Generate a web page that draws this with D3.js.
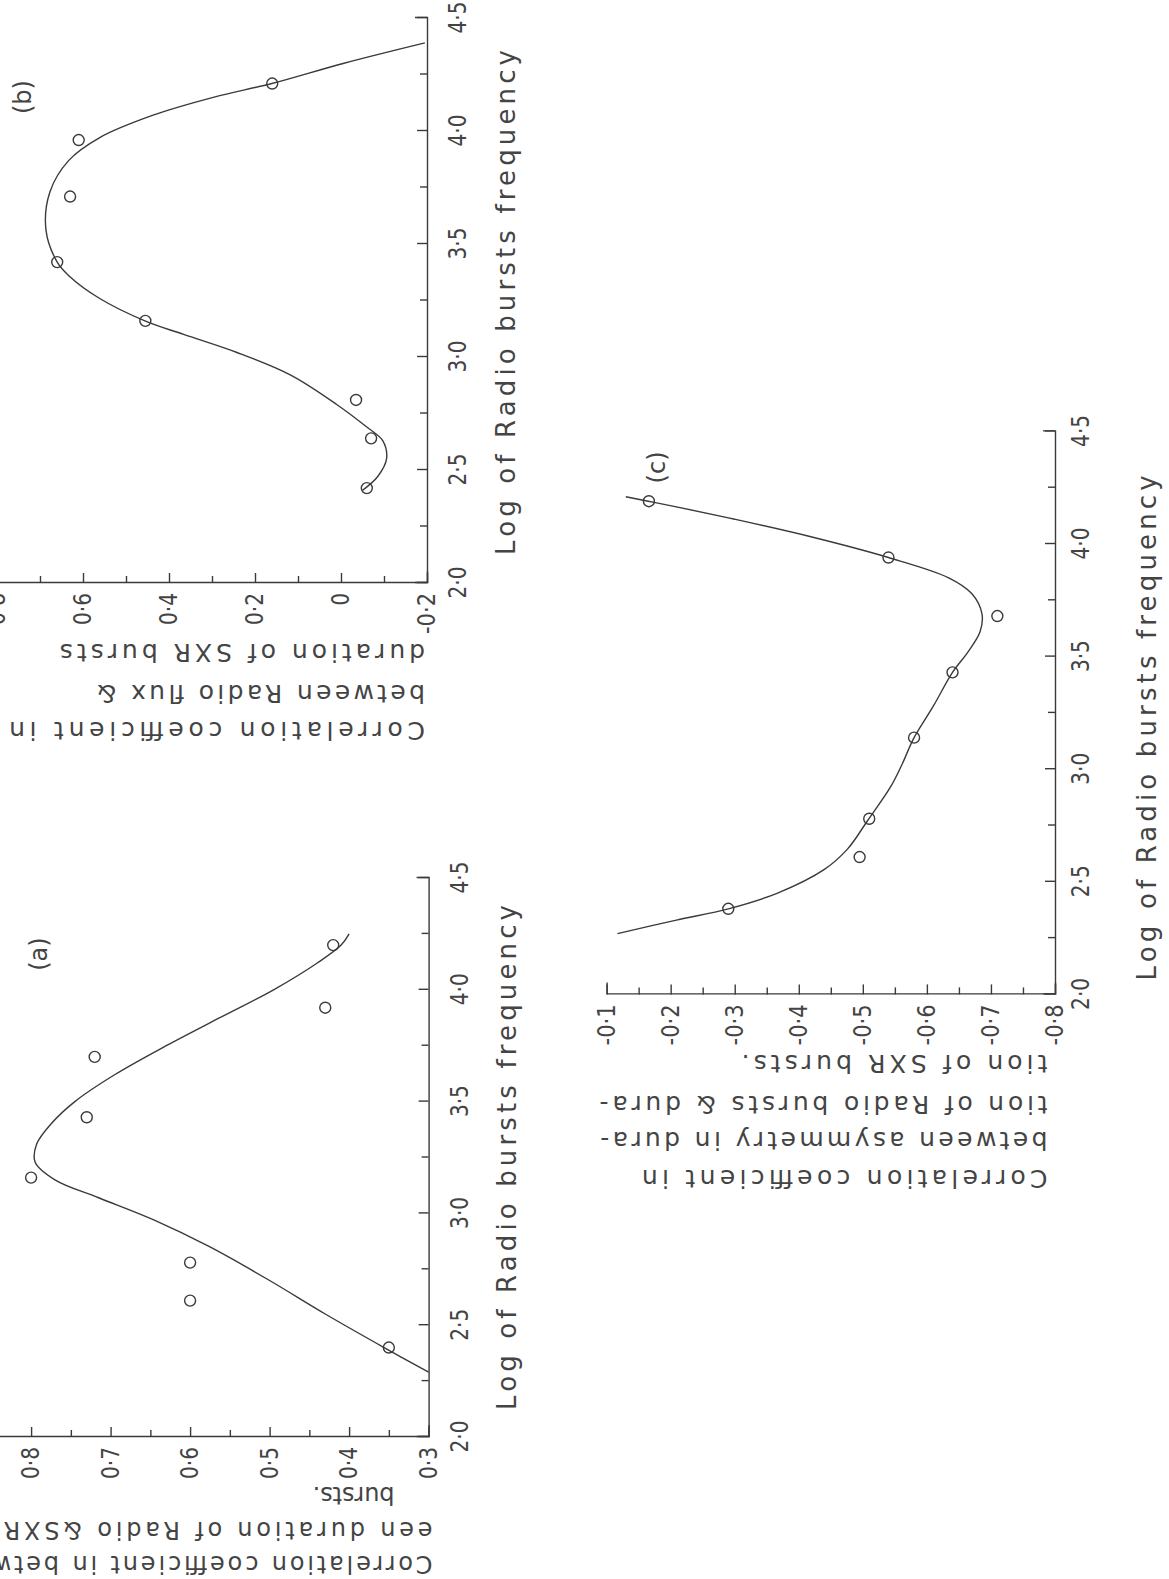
<!DOCTYPE html>
<html>
<head>
<meta charset="utf-8">
<script src="https://cdn.jsdelivr.net/npm/d3@7"></script>
<style>
  body { margin: 0; background: #fff; }
  svg text { font-family: "DejaVu Sans", sans-serif; fill: #444; }
</style>
</head>
<body>
<svg id="page" width="1169" height="1579"></svg>
<script>
// ---- data (page is turned 90 degrees) ----
const xTickValues = [2.0, 2.5, 3.0, 3.5, 4.0, 4.5];
const xTickLabels = ["2·0", "2·5", "3·0", "3·5", "4·0", "4·5"];
const xMinorTicks = [2.25, 2.75, 3.25, 3.75, 4.25];

// (a) radio duration vs SXR duration
const aFreq = [2.40, 2.61, 2.78, 3.16, 3.43, 3.70, 3.92, 4.20];
const aCorr = [0.35, 0.60, 0.60, 0.80, 0.73, 0.72, 0.43, 0.42];
const aFitFreq = [2.29, 2.40, 2.55, 2.70, 2.85, 2.97, 3.07, 3.15, 3.23, 3.31, 3.40, 3.50, 3.62, 3.75, 3.88, 4.00, 4.12, 4.20, 4.25];
const aFitCorr = [0.30, 0.356, 0.43, 0.50, 0.575, 0.645, 0.715, 0.77, 0.795, 0.793, 0.775, 0.745, 0.695, 0.63, 0.56, 0.495, 0.44, 0.41, 0.40];
const aYTicks = [0.3, 0.4, 0.5, 0.6, 0.7, 0.8];
const aYLabels = ["0·3", "0·4", "0·5", "0·6", "0·7", "0·8"];
const aYMinor = [0.35, 0.45, 0.55, 0.65, 0.75, 0.85];

// (b) radio flux vs SXR duration
const bFreq = [2.42, 2.64, 2.81, 3.16, 3.42, 3.71, 3.96, 4.21];
const bCorr = [-0.06, -0.07, -0.035, 0.455, 0.66, 0.63, 0.61, 0.16];
const bFitFreq = [2.41, 2.47, 2.55, 2.63, 2.69, 2.79, 2.92, 3.02, 3.10, 3.16, 3.26, 3.36, 3.42, 3.56, 3.73, 3.87, 3.97, 4.07, 4.15, 4.21, 4.30, 4.39];
const bFitCorr = [-0.05, -0.085, -0.106, -0.097, -0.06, 0.01, 0.117, 0.242, 0.366, 0.456, 0.562, 0.633, 0.66, 0.686, 0.677, 0.633, 0.562, 0.437, 0.295, 0.161, -0.007, -0.195];
const bYTicks = [-0.2, 0, 0.2, 0.4, 0.6, 0.8];
const bYLabels = ["-0·2", "0", "0·2", "0·4", "0·6", "0·8"];
const bYMinor = [-0.1, 0.1, 0.3, 0.5, 0.7, 0.9];

// (c) asymmetry in radio duration vs SXR duration
const cFreq = [2.38, 2.61, 2.78, 3.14, 3.43, 3.68, 3.94, 4.19];
const cCorr = [-0.29, -0.495, -0.51, -0.58, -0.64, -0.71, -0.54, -0.166];
const cFitFreq = [2.27, 2.33, 2.38, 2.45, 2.555, 2.645, 2.77, 2.92, 3.02, 3.14, 3.28, 3.43, 3.52, 3.61, 3.69, 3.78, 3.85, 3.94, 4.03, 4.11, 4.165, 4.19, 4.21];
const cFitCorr = [-0.117, -0.209, -0.29, -0.367, -0.44, -0.476, -0.507, -0.543, -0.561, -0.58, -0.61, -0.64, -0.664, -0.683, -0.686, -0.67, -0.634, -0.54, -0.422, -0.30, -0.209, -0.165, -0.13];
const cYTicks = [-0.8, -0.7, -0.6, -0.5, -0.4, -0.3, -0.2, -0.1];
const cYLabels = ["-0·8", "-0·7", "-0·6", "-0·5", "-0·4", "-0·3", "-0·2", "-0·1"];
const cYMinor = [-0.75, -0.65, -0.55, -0.45, -0.35, -0.25, -0.15];

const xTitle = "Log of Radio bursts frequency";

// ---- panels: corner of the axes on the page, axis lengths, label placement ----
const panels = [
  {
    id: "a", corner: [428.6, 1437], W: 559, H: 477, yDomain: [0.3, 0.9],
    freq: aFreq, corr: aCorr, fitF: aFitFreq, fitC: aFitCorr,
    yTicks: aYTicks, yLabels: aYLabels, yMinor: aYMinor,
    xPad: 22, titleY: 87, titleLen: 505, titleShift: 0,
    tag: "(a)", tagPos: [4.16, 0.79],
    yTitle: [
      { t: "Correlation coefficient in betw-", d: 119, s: -4, len: 31 * 14.6 },
      { t: "een duration of Radio &SXR", d: 85, s: -4, len: 26 * 16.5 },
      { t: "bursts.", d: 50, s: 34, len: 82 }
    ], yTitleSize: 24
  },
  {
    id: "b", corner: [427, 583], W: 565, H: 473, yDomain: [-0.2, 0.9],
    freq: bFreq, corr: bCorr, fitF: bFitFreq, fitC: bFitCorr,
    yTicks: bYTicks, yLabels: bYLabels, yMinor: bYMinor,
    xPad: 22, titleY: 88, titleLen: 505, titleShift: -2,
    tag: "(b)", tagPos: [4.15, 0.74],
    yTitle: [
      { t: "Correlation coefficient in", d: 139, s: 2, len: 26 * 16.0 },
      { t: "between Radio flux &", d: 102, s: 2, len: 20 * 16.4 },
      { t: "duration of SXR bursts", d: 61, s: 2, len: 22 * 16.6 }
    ], yTitleSize: 25
  },
  {
    id: "c", corner: [1055, 994.4], W: 563, H: 448.4, yDomain: [-0.8, -0.1],
    freq: cFreq, corr: cCorr, fitF: cFitFreq, fitC: cFitCorr,
    yTicks: cYTicks, yLabels: cYLabels, yMinor: cYMinor,
    xPad: 17, titleY: 101, titleLen: 505, titleShift: -15,
    tag: "(c)", tagPos: [4.34, -0.178],
    yTitle: [
      { t: "Correlation coefficient in", d: 176, s: 7.5, len: 26 * 15.6 },
      { t: "between asymmetry in dura-", d: 138, s: 7.5, len: 26 * 17.2 },
      { t: "tion of Radio bursts & dura-", d: 102, s: 7.5, len: 28 * 16.0 },
      { t: "tion of SXR bursts.", d: 61, s: 7.5, len: 19 * 16.1 }
    ], yTitleSize: 25
  }
];

// printed numerals are tall and narrow
function labelWidth(s) {
  let w = 0;
  for (const c of s) w += c === "·" ? 7 : c === "-" ? 9 : 12.5;
  return w;
}

const svg = d3.select("#page");
const ink = "#3a3a3a";

panels.forEach(p => {
  // the whole figure is printed turned a quarter turn to the left
  const g = svg.append("g")
    .attr("id", "panel-" + p.id)
    .attr("transform", `translate(${p.corner[0]},${p.corner[1]}) rotate(-90)`);

  const x = d3.scaleLinear().domain([2.0, 4.5]).range([0, p.W]);
  const y = d3.scaleLinear().domain(p.yDomain).range([0, -p.H]);

  /* ------- X AXIS ------- */
  g.append("g")
    .attr("class", "x-minor")
    .call(d3.axisBottom(x).tickValues(xMinorTicks).tickSize(-7).tickSizeOuter(0).tickFormat(""))
    .call(s => s.select(".domain").remove());

  g.append("g")
    .attr("class", "x-major")
    .call(d3.axisBottom(x).tickValues(xTickValues).tickSize(-10).tickSizeOuter(-12)
      .tickPadding(p.xPad).tickFormat((d, i) => xTickLabels[i]));

  /* ------- Y AXIS ------- */
  g.append("g")
    .attr("class", "y-minor")
    .call(d3.axisLeft(y).tickValues(p.yMinor).tickSize(-7).tickSizeOuter(0).tickFormat(""))
    .call(s => s.select(".domain").remove());

  g.append("g")
    .attr("class", "y-major")
    .call(d3.axisLeft(y).tickValues(p.yTicks).tickSize(-10).tickSizeOuter(-12)
      .tickPadding(10).tickFormat((d, i) => p.yLabels[i]));

  g.selectAll(".domain, .tick line")
    .attr("stroke", ink)
    .attr("stroke-width", 1.4);
  g.selectAll(".tick text")
    .attr("fill", "#444")
    .attr("textLength", function () { return labelWidth(this.textContent); })
    .attr("lengthAdjust", "spacingAndGlyphs")
    .style("font-size", "24px")
    .style("font-family", "DejaVu Sans, sans-serif");

  /* ------- FITTED CURVE ------- */
  const fit = p.fitF.map((f, i) => [f, p.fitC[i]]);
  g.append("path")
    .datum(fit)
    .attr("fill", "none")
    .attr("stroke", ink)
    .attr("stroke-width", 1.4)
    .attr("d", d3.line()
      .x(d => x(d[0]))
      .y(d => y(d[1]))
      .curve(d3.curveCatmullRom.alpha(0.5)));

  /* ------- OBSERVED POINTS ------- */
  g.selectAll("circle.obs")
    .data(p.freq.map((f, i) => [f, p.corr[i]]))
    .enter().append("circle")
    .attr("class", "obs")
    .attr("cx", d => x(d[0]))
    .attr("cy", d => y(d[1]))
    .attr("r", 5.5)
    .attr("fill", "none")
    .attr("stroke", ink)
    .attr("stroke-width", 1.4);

  /* ------- TITLES ------- */
  g.append("text")
    .attr("x", p.W / 2 + p.titleShift)
    .attr("y", p.titleY)
    .attr("text-anchor", "middle")
    .attr("textLength", p.titleLen)
    .attr("lengthAdjust", "spacing")
    .style("font-size", "26px")
    .text(xTitle);

  p.yTitle.forEach(line => {
    g.append("text")
      .attr("transform", `translate(${-line.d},${-line.s}) rotate(-90)`)
      .attr("text-anchor", "start")
      .attr("textLength", line.len)
      .attr("lengthAdjust", "spacing")
      .style("font-size", p.yTitleSize + "px")
      .text(line.t);
  });

  // panel tag, sitting inside the plot
  g.append("text")
    .attr("x", x(p.tagPos[0]))
    .attr("y", y(p.tagPos[1]))
    .attr("dy", "0.35em")
    .attr("text-anchor", "middle")
    .style("font-size", "24px")
    .text(p.tag);
});
</script>
</body>
</html>
